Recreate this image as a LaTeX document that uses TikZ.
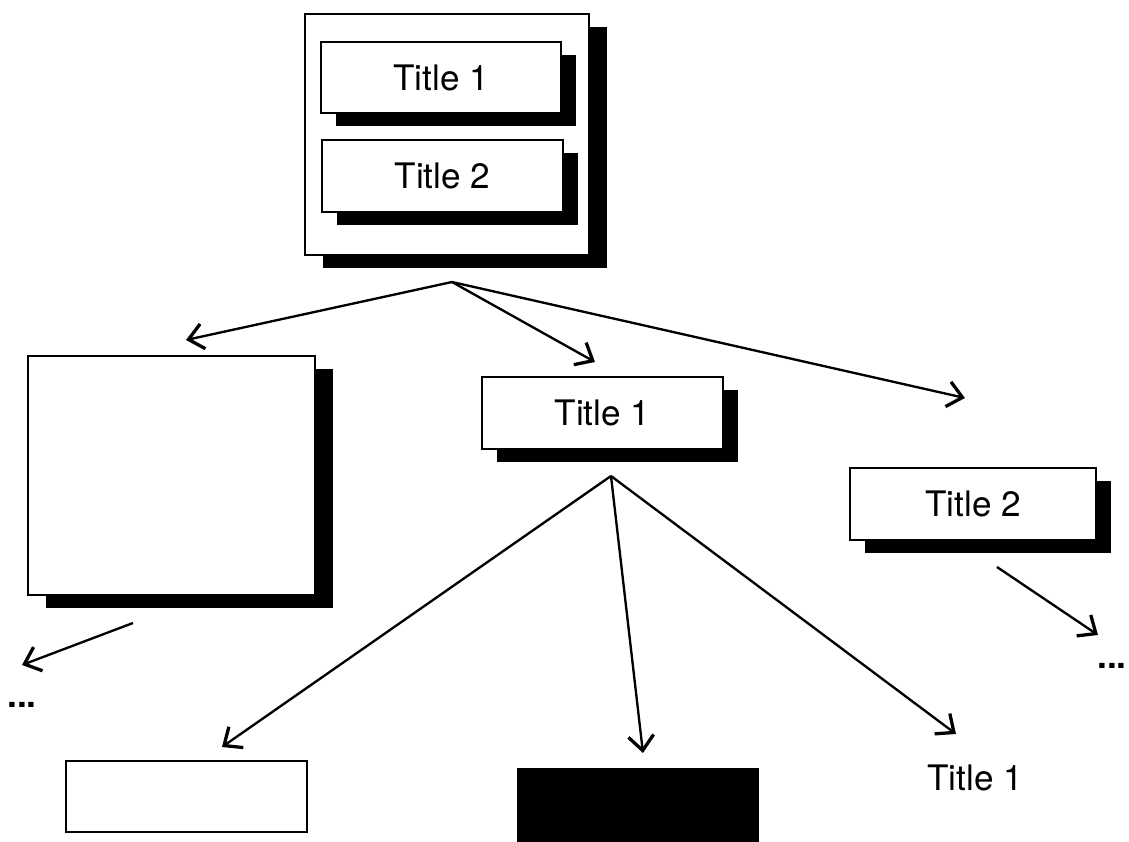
\documentclass[tikz,border=0pt]{standalone}
\usepackage{fontspec}
\setmainfont{TeX Gyre Heros}
\usetikzlibrary{shadows,arrows.meta}

\begin{document}
\begin{tikzpicture}[scale=0.15,
    box/.style={draw=black, line width=1pt, fill=white, inner sep=0pt,
        font=\fontsize{15}{18}\selectfont},
    shbox/.style={box, drop shadow={shadow xshift=2.2mm, shadow yshift=-2mm, opacity=1, fill=black}},
    bigbox/.style={box, drop shadow={shadow xshift=2.7mm, shadow yshift=-2mm, opacity=1, fill=black}},
    label/.style={inner sep=0pt, font=\fontsize{15}{18}\selectfont},
    link/.style={line width=1pt, -{Straight Barb[length=2.2mm,width=3.8mm,line width=1.4pt]}}]
            \useasboundingbox (0,0) rectangle (112.9,-84.1);
            % outer frame with its two titles
            \node [bigbox, minimum width=4.26cm, minimum height=3.615cm] (frame) at (44.7,-13.45) {};
            \node [shbox, minimum width=3.6cm, minimum height=1.065cm] (frameA) at (44.1,-7.75) {Title 1};
            \node [shbox, minimum width=3.615cm, minimum height=1.08cm] (frameB) at (44.25,-17.6) {Title 2};
            % second row
            \node [bigbox, minimum width=4.305cm, minimum height=3.585cm] (page) at (17.15,-47.55) {};
            \node [shbox, minimum width=3.615cm, minimum height=1.08cm] (first) at (60.25,-41.3) {Title 1};
            \node [shbox, minimum width=3.69cm, minimum height=1.08cm] (second) at (97.3,-50.4) {Title 2};
            % bottom row
            \node [box, minimum width=3.615cm, minimum height=1.065cm] (blank) at (18.65,-79.65) {};
            \node [box, fill=black, minimum width=3.6cm, minimum height=1.14cm] (solid) at (63.8,-80.7) {};
            \node [label] (leaf) at (97.5,-77.8) {Title 1};
            \node [label, font=\fontsize{15}{18}\selectfont\bfseries] (moreL) at (2.2,-70.5) {...};
            \node [label, font=\fontsize{15}{18}\selectfont\bfseries] (moreR) at (111.2,-66.6) {...};
            % fork points and arrow ends
            \coordinate (forkA) at (45.2,-28.2);
            \coordinate (forkB) at (61.1,-47.6);
            \coordinate (toPage) at (18.6,-34.0);
            \coordinate (toFirst) at (59.5,-36.2);
            \coordinate (toSecond) at (96.5,-39.8);
            \coordinate (toBlank) at (22.2,-74.7);
            \coordinate (toSolid) at (64.3,-75.3);
            \coordinate (toLeaf) at (95.6,-73.4);
            \coordinate (pageOut) at (13.3,-62.3);
            \coordinate (toMoreL) at (2.2,-66.5);
            \coordinate (secondOut) at (99.7,-56.7);
            \coordinate (toMoreR) at (109.8,-63.5);
            \draw [link] (forkA) -- (toPage);
            \draw [link] (forkA) -- (toFirst);
            \draw [link] (forkA) -- (toSecond);
            \draw [link] (forkB) -- (toBlank);
            \draw [link] (forkB) -- (toSolid);
            \draw [link] (forkB) -- (toLeaf);
            \draw [link] (pageOut) -- (toMoreL);
            \draw [link] (secondOut) -- (toMoreR);
        \end{tikzpicture}
\end{document}
